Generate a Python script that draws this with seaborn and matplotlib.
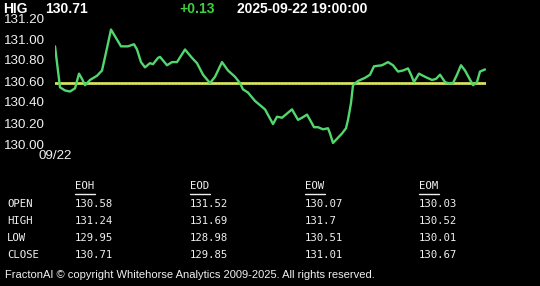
import matplotlib
matplotlib.use("Agg")
import matplotlib.pyplot as plt
import seaborn as sns
import pandas as pd
from matplotlib.lines import Line2D

# ---- data ----
symbol = "HIG"
last_price = "130.71"
change = "+0.13"
timestamp = "2025-09-22 19:00:00"
date_label = "09/22"

t = [0, 5, 10, 15, 20, 24, 27, 30, 35, 42, 47, 51, 56, 61, 66, 73, 79, 82, 86, 90,
     95, 98, 103, 105, 112, 117, 122, 130, 137, 142, 148, 155, 160, 167, 173, 180,
     185, 188, 193, 200, 205, 210, 214, 218, 222, 227, 232, 237, 240, 243, 247, 252,
     255, 259, 263, 268, 273, 275, 278, 282, 287, 291, 293, 296, 298, 303, 310, 315,
     319, 327, 333, 338, 343, 348, 353, 356, 359, 364, 370, 377, 381, 385, 390, 393,
     398, 402, 406, 410, 414, 418, 422, 425, 430]
price = [130.93, 130.54, 130.51, 130.50, 130.53, 130.67, 130.62, 130.56, 130.61, 130.65,
         130.70, 130.87, 131.09, 131.01, 130.93, 130.93, 130.95, 130.90, 130.78, 130.73,
         130.77, 130.76, 130.82, 130.83, 130.75, 130.78, 130.78, 130.90, 130.82, 130.77,
         130.66, 130.58, 130.64, 130.78, 130.70, 130.64, 130.58, 130.52, 130.49, 130.41,
         130.37, 130.33, 130.26, 130.19, 130.26, 130.25, 130.29, 130.33, 130.28, 130.23,
         130.25, 130.28, 130.23, 130.16, 130.16, 130.14, 130.15, 130.10, 130.01, 130.05,
         130.10, 130.15, 130.23, 130.39, 130.56, 130.60, 130.63, 130.66, 130.74, 130.75,
         130.78, 130.75, 130.69, 130.70, 130.72, 130.66, 130.59, 130.67, 130.64, 130.61,
         130.62, 130.66, 130.59, 130.58, 130.58, 130.66, 130.75, 130.70, 130.63, 130.56,
         130.59, 130.69, 130.71]
open_ref = 130.58
yticks = [130.00, 130.20, 130.40, 130.60, 130.80, 131.00, 131.20]

periods = ["EOH", "EOD", "EOW", "EOM"]
row_names = ["OPEN", "HIGH", "LOW", "CLOSE"]
open_vals = ["130.58", "131.52", "130.07", "130.03"]
high_vals = ["131.24", "131.69", "131.7", "130.52"]
low_vals = ["129.95", "128.98", "130.51", "130.01"]
close_vals = ["130.71", "129.85", "131.01", "130.67"]
footer = "FractonAI \u00a9 copyright Whitehorse Analytics 2009-2025. All rights reserved."

# ---- figure ----
sns.set_theme(style="dark")
plt.rcParams['font.family'] = ['Liberation Sans', 'DejaVu Sans']
W, H = 540, 286
fig = plt.figure(figsize=(W / 100, H / 100), dpi=100, facecolor="black")

def fx(px):
    return px / W

def fy(py):
    return 1 - py / H

ax = fig.add_axes([fx(55), fy(144), fx(486) - fx(55), fy(18) - fy(144)])
ax.set_facecolor("black")
df = pd.DataFrame({"t": t, "price": price})
ax.axhline(open_ref, xmin=0, xmax=1, color="#d4dc5a", lw=2.0, zorder=2)
ax.axhline(open_ref, xmin=0, xmax=1, color="#f4f4b0", lw=0.6, ls=(0, (1, 3)), zorder=3)
sns.lineplot(data=df, x="t", y="price", ax=ax, color="#52d66e", lw=1.7, zorder=4)
ax.set_xlim(0, 431)
ax.set_ylim(130.0, 131.2)
ax.set_yticks(yticks)
ax.set_yticklabels([f"{v:.2f}" for v in yticks], color="#f0f0f0", fontsize=9.6)
ax.set_xticks([0])
ax.set_xticklabels([date_label], color="#f0f0f0", fontsize=9.6)
ax.tick_params(axis="y", length=0, pad=7)
ax.tick_params(axis="x", length=1, width=1, color="#f0f0f0", pad=3)
ax.set_xlabel("")
ax.set_ylabel("")
ax.grid(False)
for s in ax.spines.values():
    s.set_visible(False)

# header
hdr = dict(fontsize=10, fontweight="bold", va="center", ha="left")
fig.text(fx(3), fy(9), symbol, color="white", **hdr)
fig.text(fx(45), fy(9), last_price, color="white", **hdr)
fig.text(fx(179), fy(9), change, color="#3ed33e", **hdr)
fig.text(fx(237), fy(9), timestamp, color="white", **hdr)

# table
mono = dict(fontsize=7.7, family="DejaVu Sans Mono", color="#f0f0f0", va="center", ha="left")
col_x = [75, 190, 305, 419]
row_y = [204, 221, 238, 255]
for cx, p in zip(col_x, periods):
    fig.text(fx(cx), fy(186), p, **mono)
    fig.add_artist(Line2D([fx(cx), fx(cx + 20)], [fy(193.5), fy(193.5)],
                          color="#f0f0f0", lw=1.0, transform=fig.transFigure))
for ry, name in zip(row_y, row_names):
    fig.text(fx(7), fy(ry), name, **mono)
for ry, vals in zip(row_y, [open_vals, high_vals, low_vals, close_vals]):
    for cx, v in zip(col_x, vals):
        fig.text(fx(cx), fy(ry), v, **mono)

fig.text(fx(5), fy(275), footer, color="#f0f0f0", fontsize=8.0, va="center", ha="left")

fig.savefig("out.png", dpi=100, facecolor="black")
